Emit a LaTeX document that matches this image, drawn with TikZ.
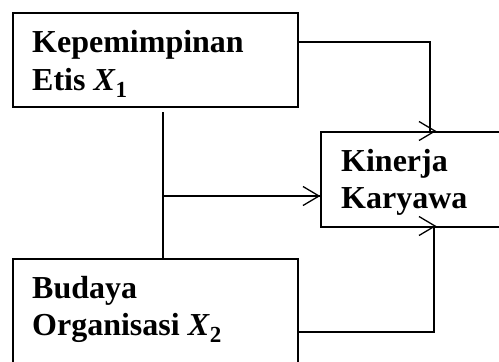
\documentclass[tikz,border=0pt]{standalone}
\usepackage{fontspec}
\setmainfont{Liberation Serif}
\newcommand\mysub[1]{\raisebox{-7pt}{\fontsize{23}{23}\selectfont\upshape #1}}
\newcommand\rtip[1]{\draw[conn] ([shift={(-16,-9.5)}]#1) -- (#1) -- ([shift={(-16,9.5)}]#1);}
\begin{document}
\begin{tikzpicture}[x=1pt,y=-1pt,
  box/.style={draw, line width=2.3pt, inner sep=0pt, anchor=north west},
  lbl/.style={anchor=base west, inner sep=0pt, font=\fontsize{32}{32}\selectfont\bfseries},
  conn/.style={line width=1.3pt, line join=miter}]
\useasboundingbox (0,0) rectangle (499,362);
\clip (0,0) rectangle (499,362);
% boxes
\node[box, minimum width=285pt, minimum height=94pt] (etis) at (12,12) {};
\node[box, minimum width=220pt, minimum height=95pt] (kin) at (320,131) {};
\node[box, minimum width=285pt, minimum height=130pt] (bud) at (12,258) {};
% labels
\node[lbl] (t1) at (32,52) {Kepemimpinan};
\node[lbl] (t2) at (32,90) {Etis \textit{X}\mysub{1}};
\node[lbl] (t3) at (341,171) {Kinerja};
\node[lbl] (t4) at (341,208) {Karyawa};
\node[lbl] (t5) at (32,298) {Budaya};
\node[lbl] (t6) at (32,335) {Organisasi \textit{X}\mysub{2}};
% connectors
\coordinate (tipA) at (435,131);
\coordinate (tipB) at (319,196);
\coordinate (tipC) at (435,226);
\coordinate (junc) at (163,196);
\draw[conn] (etis.east |- 0,42) -| (430,0 |- kin.north);
\rtip{tipA}
\draw[conn] ([yshift=-4pt]etis.south -| junc) -- (bud.north -| junc);
\draw[conn] (junc) -- (kin.west |- junc);
\rtip{tipB}
\draw[conn] (bud.east |- 0,332) -| (434,0 |- kin.south);
\rtip{tipC}
\end{tikzpicture}
\end{document}
